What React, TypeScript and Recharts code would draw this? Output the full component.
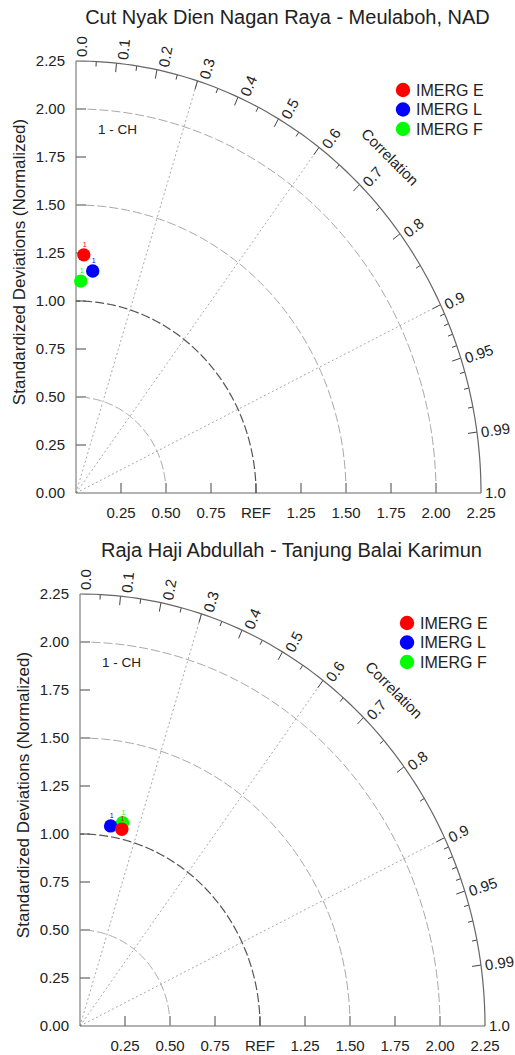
import React from 'react';
import { ScatterChart, Scatter, XAxis, YAxis, ReferenceLine } from 'recharts';

const seriesNames = ['IMERG E', 'IMERG L', 'IMERG F'];
const seriesColors = ['#ff0000', '#0000ff', '#00ff00'];

// correlation and normalized standard deviation per product
const meulabohCorr = [0.035, 0.08, 0.024];
const meulabohStd = [1.241, 1.16, 1.104];
const karimunCorr = [0.221, 0.161, 0.218];
const karimunStd = [1.051, 1.056, 1.085];

const stdTicks = [0, 0.25, 0.5, 0.75, 1, 1.25, 1.5, 1.75, 2, 2.25];
const xTicks = [0.25, 0.5, 0.75, 1, 1.25, 1.5, 1.75, 2, 2.25];
const stdArcs = [0.5, 1, 1.5, 2];
const corrMajor = [0, 0.1, 0.2, 0.3, 0.4, 0.5, 0.6, 0.7, 0.8, 0.9, 0.95, 0.99, 1];
const corrLabels = ['0.0', '0.1', '0.2', '0.3', '0.4', '0.5', '0.6', '0.7', '0.8', '0.9', '0.95', '0.99', '1.0'];
const corrMinor = [0.05, 0.15, 0.25, 0.35, 0.45, 0.55, 0.65, 0.75, 0.85, 0.91, 0.92, 0.93, 0.94, 0.96, 0.97, 0.98];
const corrRays = [0.3, 0.6, 0.9];

const MAX = 2.25;
const W = 515;
const H = 522;
const margin = { top: 61, right: 34, left: 16, bottom: 4 };
const Y_W = 60;
const X_H = 25;
const plotW = W - margin.left - Y_W - margin.right;
const plotH = H - margin.top - margin.bottom - X_H;
const kx = plotW / MAX;
const ky = plotH / MAX;

const FONT = '"Liberation Sans", Arial, Helvetica, sans-serif';
const TEXT = '#222';

const polar = (r: number, s: number) => ({ x: s * r, y: s * Math.sqrt(Math.max(0, 1 - r * r)) });
const screenAngle = (r: number) => Math.atan2(Math.sqrt(Math.max(0, 1 - r * r)) * ky, r * kx);
const pixPerUnit = (r: number) => Math.hypot(kx * r, ky * Math.sqrt(Math.max(0, 1 - r * r)));

const arcPoints = (s: number) =>
  Array.from({ length: 91 }, (_, i) => {
    const t = (i * Math.PI) / 180;
    return { x: s * Math.cos(t), y: s * Math.sin(t) };
  });

const corrLabelData = corrMajor.map((r, i) => ({ ...polar(r, MAX), r, label: corrLabels[i] }));

const Nothing = () => <g />;

const CorrLabel = (props: any) => {
  const { cx, cy, payload } = props;
  const a = screenAngle(payload.r);
  const deg = (a * 180) / Math.PI;
  const tx = cx + 4 * Math.cos(a);
  const ty = cy - 4 * Math.sin(a);
  const dy = 15 * 0.35 + 6 * Math.sin(a);
  return (
    <text x={tx} y={ty} dy={dy} transform={`rotate(${-deg} ${tx} ${ty})`} fontSize={15} fill={TEXT}>
      {payload.label}
    </text>
  );
};

const Marker = (props: any) => {
  const { cx, cy, color } = props;
  return (
    <g>
      <circle cx={cx} cy={cy} r={6.7} fill={color} />
      <text x={cx + 1} y={cy - 8} fontSize={7} textAnchor="middle" fill={color}>
        1
      </text>
    </g>
  );
};

interface TaylorProps {
  title: string;
  corr: number[];
  std: number[];
  left: number;
  top: number;
}

const Taylor: React.FC<TaylorProps> = ({ title, corr, std, left, top }) => {
  const drawOrder = [2, 1, 0];
  return (
    <div style={{ position: 'absolute', left, top, width: W, height: H }}>
      <ScatterChart width={W} height={H} margin={margin}>
        <XAxis
          type="number"
          dataKey="x"
          domain={[0, MAX]}
          ticks={xTicks}
          interval={0}
          tickFormatter={(v: number) => (v === 1 ? 'REF' : v.toFixed(2))}
          tickLine={false}
          tickSize={6}
          tickMargin={8}
          height={X_H}
          axisLine={{ stroke: '#666' }}
          tick={{ fill: TEXT, fontSize: 15 }}
        />
        <YAxis
          type="number"
          dataKey="y"
          domain={[0, MAX]}
          ticks={stdTicks}
          interval={0}
          tickFormatter={(v: number) => v.toFixed(2)}
          tickLine={false}
          tickSize={6}
          tickMargin={5}
          width={Y_W}
          axisLine={{ stroke: '#666' }}
          tick={{ fill: TEXT, fontSize: 15 }}
        />

        {stdArcs.map((s) => (
          <Scatter
            key={`arc-${s}`}
            data={arcPoints(s)}
            isAnimationActive={false}
            shape={Nothing}
            line={{
              stroke: s === 1 ? '#555' : '#a8a8a8',
              strokeWidth: s === 1 ? 1.2 : 1,
              strokeDasharray: '9 3',
            }}
            lineType="joint"
            legendType="none"
          />
        ))}
        <Scatter
          data={arcPoints(MAX)}
          isAnimationActive={false}
          shape={Nothing}
          line={{ stroke: '#666', strokeWidth: 1.2 }}
          lineType="joint"
          legendType="none"
        />

        {corrRays.map((r) => (
          <ReferenceLine
            key={`ray-${r}`}
            segment={[{ x: 0, y: 0 }, polar(r, MAX)]}
            stroke="#aaa"
            strokeDasharray="2 2.5"
            ifOverflow="visible"
          />
        ))}

        {drawOrder.map((i) => (
          <Scatter
            key={seriesNames[i]}
            name={seriesNames[i]}
            data={[polar(corr[i], std[i])]}
            isAnimationActive={false}
            shape={(p: any) => <Marker {...p} color={seriesColors[i]} />}
          />
        ))}

        {stdTicks.slice(1, -1).map((v) => (
          <ReferenceLine
            key={`yt-${v}`}
            segment={[{ x: 0, y: v }, { x: 10 / kx, y: v }]}
            stroke="#444"
            ifOverflow="visible"
          />
        ))}
        {xTicks.slice(0, -1).map((v) => (
          <ReferenceLine
            key={`xt-${v}`}
            segment={[{ x: v, y: 0 }, { x: v, y: 10 / ky }]}
            stroke="#444"
            ifOverflow="visible"
          />
        ))}
        {corrMajor.slice(1, -1).map((r) => (
          <ReferenceLine
            key={`cm-${r}`}
            segment={[polar(r, MAX), polar(r, MAX - 9 / pixPerUnit(r))]}
            stroke="#444"
            ifOverflow="visible"
          />
        ))}
        {corrMinor.map((r) => (
          <ReferenceLine
            key={`cn-${r}`}
            segment={[polar(r, MAX), polar(r, MAX - 5 / pixPerUnit(r))]}
            stroke="#444"
            ifOverflow="visible"
          />
        ))}

        <Scatter data={corrLabelData} isAnimationActive={false} shape={CorrLabel} legendType="none" />
      </ScatterChart>

      <svg
        width={W}
        height={H}
        style={{ position: 'absolute', left: 0, top: 0, pointerEvents: 'none', fontFamily: FONT }}
      >
        <text x={287.5} y={24} textAnchor="middle" fontSize={20} fill={TEXT}>
          {title}
        </text>
        <text x={25} y={262} textAnchor="middle" fontSize={17} fill={TEXT} transform="rotate(-90 25 262)">
          Standardized Deviations (Normalized)
        </text>
        <text x={98} y={134} fontSize={13.5} fill={TEXT}>
          1 - CH
        </text>
        <text
          x={390}
          y={157}
          dy="0.35em"
          textAnchor="middle"
          fontSize={15}
          fill={TEXT}
          transform="rotate(45 390 157)"
        >
          Correlation
        </text>
        {seriesNames.map((n, i) => (
          <g key={n}>
            <circle cx={403} cy={90 + i * 19.5} r={7.2} fill={seriesColors[i]} />
            <text x={416} y={90 + i * 19.5 + 5.8} fontSize={16} fill={TEXT}>
              {n}
            </text>
          </g>
        ))}
      </svg>
    </div>
  );
};

export default function App() {
  return (
    <div
      style={{
        position: 'absolute',
        left: 0,
        top: 0,
        width: 515,
        height: 1055,
        background: '#fff',
        overflow: 'hidden',
        fontFamily: FONT,
      }}
    >
      <Taylor title="Cut Nyak Dien Nagan Raya - Meulaboh, NAD" corr={meulabohCorr} std={meulabohStd} left={0} top={0} />
      <Taylor
        title="Raja Haji Abdullah - Tanjung Balai Karimun"
        corr={karimunCorr}
        std={karimunStd}
        left={4}
        top={533}
      />
    </div>
  );
}
